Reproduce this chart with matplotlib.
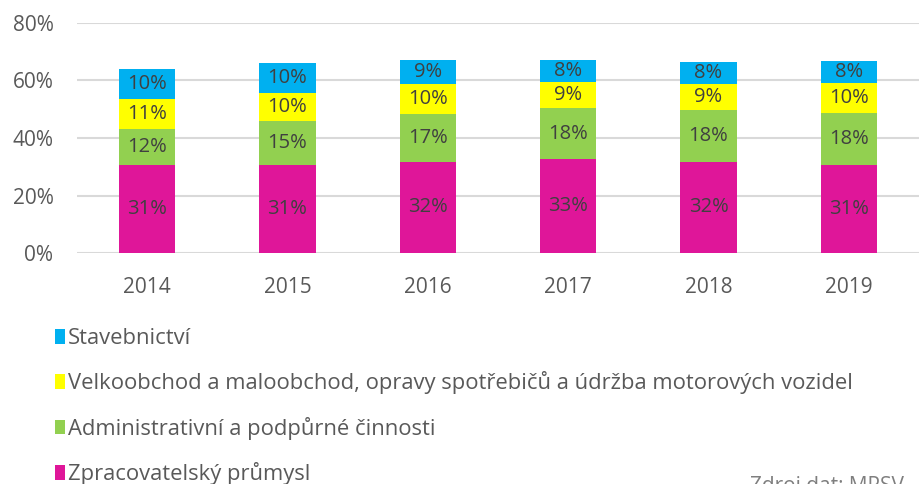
import matplotlib
matplotlib.use("Agg")
import matplotlib.pyplot as plt
import numpy as np

years = ["2014", "2015", "2016", "2017", "2018", "2019"]
zpracovatelsky = [30.6, 30.6, 31.7, 32.6, 31.7, 30.6]
administrativni = [12.4, 15.3, 16.6, 17.8, 18.1, 18.1]
velkoobchod = [10.6, 9.8, 10.4, 9.1, 9.0, 10.3]
stavebnictvi = [10.4, 10.4, 8.6, 7.6, 7.7, 7.7]

series = [
    ("Zpracovatelský průmysl", zpracovatelsky, "#DF1699"),
    ("Administrativní a podpůrné činnosti", administrativni, "#92D050"),
    ("Velkoobchod a maloobchod, opravy spotřebičů a údržba motorových vozidel", velkoobchod, "#FFFF00"),
    ("Stavebnictví", stavebnictvi, "#00B0F0"),
]

plt.rcParams['font.family'] = ['Open Sans', 'DejaVu Sans']

fig = plt.figure(figsize=(9.19, 4.84), dpi=100)
ax = fig.add_axes([77/919, 1 - 253/484, 1 - 77/919, 230/484])

x = np.arange(len(years))
bottom = np.zeros(len(years))
handles = []
for name, vals, col in series:
    vals = np.array(vals)
    b = ax.bar(x, vals, 0.4, bottom=bottom, color=col, label=name, zorder=3)
    handles.append(b)
    for xi, v, bt in zip(x, vals, bottom):
        ax.text(xi, bt + v / 2, f"{round(v):.0f}%", ha='center', va='center',
                fontsize=14.5, color='#404040', zorder=4)
    bottom += vals

ax.set_ylim(0, 80)
ax.set_xlim(-0.5, 5.5)
ax.set_yticks([0, 20, 40, 60, 80])
ax.set_yticklabels([f"{t}%" for t in [0, 20, 40, 60, 80]])
ax.set_xticks(x)
ax.set_xticklabels(years)
ax.tick_params(axis='both', length=0, labelsize=15, colors='#595959')
ax.tick_params(axis='x', pad=17)
ax.tick_params(axis='y', pad=17)
ax.grid(axis='y', color='#D9D9D9', linewidth=1.5, zorder=0)
for s in ax.spines.values():
    s.set_visible(False)

leg = fig.legend(handles=handles[::-1], labels=[s[0] for s in series][::-1],
                 loc='upper left', bbox_to_anchor=(55/919, 1 - 328/484),
                 frameon=False, handlelength=0.45, handleheight=0.65,
                 handletextpad=0.15, labelspacing=1.02, fontsize=15.8,
                 borderpad=0, borderaxespad=0)
for t in leg.get_texts():
    t.set_color('#595959')

fig.text(750/919, 8/484, "Zdroj dat: MPSV", ha='left', va='top', fontsize=15, color='#7F7F7F')

fig.savefig("out.png", dpi=100)
